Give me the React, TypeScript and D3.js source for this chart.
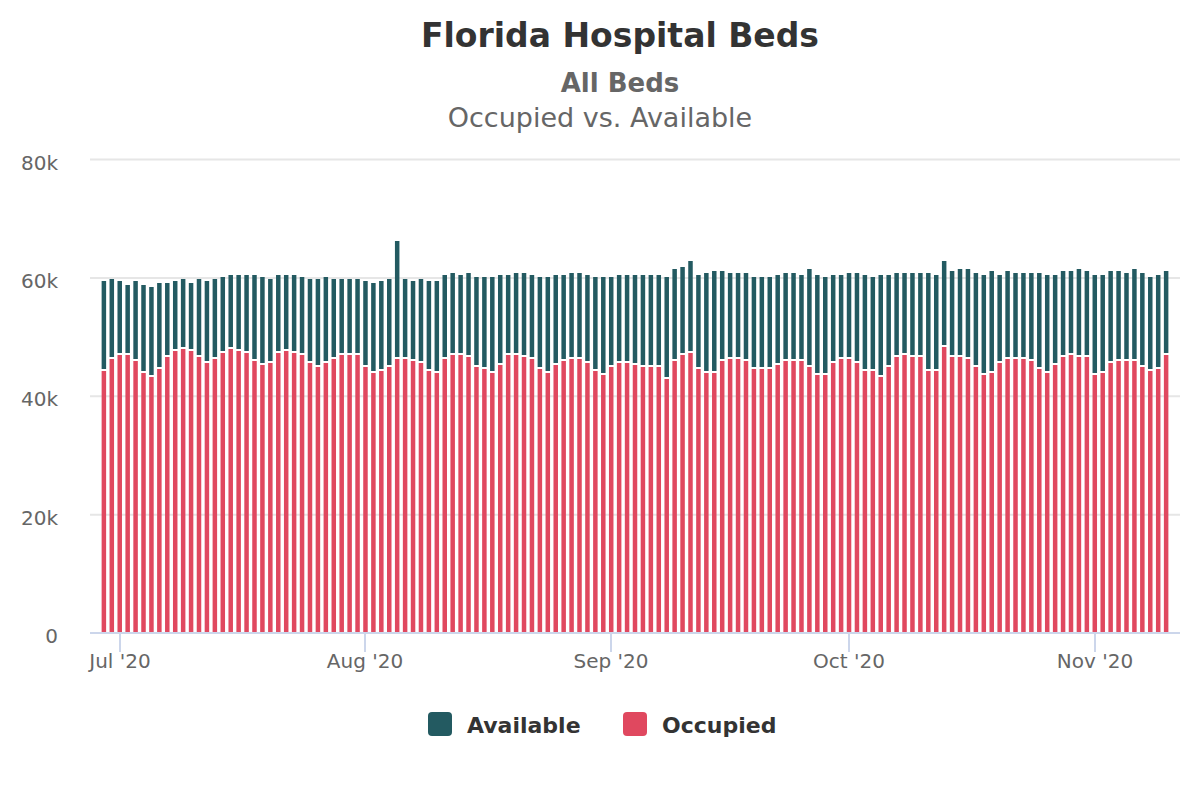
import React from "react";
import * as d3 from "d3";

const startDate = "2020-06-29";
const endDate = "2020-11-10";

const occupied = [
  44300, 46300, 47000, 47000, 46000, 43900, 43300, 44600, 46600, 47700,
  48000, 47700, 46600, 45600, 46300, 47300, 48000, 47700, 47300, 46000,
  45300, 45600, 47300, 47700, 47300, 47000, 45600, 45000, 45600, 46300,
  47000, 47000, 47000, 45000, 43900, 44300, 45000, 46300, 46300, 46000,
  45600, 44300, 43900, 46300, 47000, 47000, 46600, 45000, 44600, 43900,
  45300, 47000, 47000, 46600, 46300, 44600, 43900, 45300, 46000, 46300,
  46300, 45600, 44300, 43600, 45000, 45600, 45600, 45300, 45000, 45000,
  45000, 42900, 46000, 47000, 47300, 44600, 43900, 43900, 46000, 46300,
  46300, 46000, 44600, 44600, 44600, 45300, 46000, 46000, 46000, 45000,
  43600, 43600, 45600, 46300, 46300, 45600, 44300, 44300, 43300, 45000,
  46600, 47000, 46600, 46600, 44300, 44300, 48300, 46600, 46600, 46300,
  45000, 43600, 43900, 45600, 46300, 46300, 46300, 46000, 44600, 43900,
  45300, 46600, 47000, 46600, 46600, 43600, 43900, 45600, 46000, 46000,
  46000, 45000, 44300, 44600, 47000,
];

const available = [
  15100, 13500, 12400, 11800, 13400, 14900, 15100, 14500, 12500, 11700,
  11800, 11400, 13200, 13800, 13500, 12800, 12500, 12800, 13200, 14500,
  14800, 14200, 13200, 12800, 13200, 13100, 14200, 14800, 14500, 13500,
  12800, 12800, 12800, 14400, 15200, 15100, 14800, 19900, 13500, 13400,
  14200, 15100, 15500, 14200, 13800, 13500, 14200, 15100, 15500, 16200,
  15200, 13500, 13800, 14200, 14200, 15500, 16200, 15200, 14500, 14500,
  14500, 14900, 15800, 16500, 15100, 14900, 14900, 15200, 15500, 15500,
  15500, 17200, 15500, 14800, 15500, 15900, 16900, 17200, 15100, 14500,
  14500, 14800, 15500, 15500, 15500, 15200, 14800, 14800, 14500, 16500,
  16900, 16500, 14900, 14200, 14500, 15200, 16200, 15800, 17200, 15500,
  14200, 13800, 14200, 14200, 16500, 16200, 14500, 14500, 14900, 15200,
  15800, 16900, 17200, 14900, 14800, 14500, 14500, 14800, 16200, 16600,
  15200, 14500, 14100, 14900, 14500, 16900, 16600, 15500, 15100, 14800,
  15500, 15800, 15800, 15900, 14100,
];

const yTicks = [0, 20000, 40000, 60000, 80000];
const yTickLabels = ["0", "20k", "40k", "60k", "80k"];
const monthTicks = ["2020-07-01", "2020-08-01", "2020-09-01", "2020-10-01", "2020-11-01"];

const seriesNames = ["Available", "Occupied"];
const seriesColors = ["#235a61", "#e0485f"];

const FONT = "'DejaVu Sans', Verdana, sans-serif";

export default function App() {
  const parse = d3.utcParse("%Y-%m-%d");
  const s = parse(startDate)!;
  const e = parse(endDate)!;
  const days = d3.utcDay.range(s, d3.utcDay.offset(e, 1));

  const left = 90, right = 1180, top = 159.5, bottom = 633;
  const pad = 1.75 * 24 * 3600 * 1000;
  const x = d3.scaleUtc().domain([new Date(+s - pad), new Date(+e + pad)]).range([left, right]);
  const y = d3.scaleLinear().domain([0, 80000]).range([bottom, top]);
  const fmt = d3.utcFormat("%b '%y");
  const barW = 4.5;

  return (
    <svg width={1200} height={800} style={{ position: "absolute", left: 0, top: 0, background: "#fff" }} fontFamily={FONT}>
      <text x={620} y={47} textAnchor="middle" fontSize={33} fontWeight="bold" fill="#333">Florida Hospital Beds</text>
      <text x={620} y={92} textAnchor="middle" fontSize={26} fontWeight="bold" fill="#666">All Beds</text>
      <text x={600} y={127} textAnchor="middle" fontSize={27} fill="#666">Occupied vs. Available</text>

      {yTicks.map((t, i) => (
        <g key={t}>
          {t > 0 && <line x1={left} x2={right} y1={y(t)} y2={y(t)} stroke="#e6e6e6" strokeWidth={2} />}
          <text x={58} y={y(t) + 10} textAnchor="end" fontSize={20} fill="#666">{yTickLabels[i]}</text>
        </g>
      ))}

      {days.map((d, i) => {
        const bx = x(d) - barW / 2;
        const yo = Math.round(y(occupied[i]));
        const yt = Math.round(y(occupied[i] + available[i]));
        return (
          <g key={i}>
            <rect x={bx} y={yt} width={barW} height={Math.max(0, yo - 2 - yt)} fill={seriesColors[0]} />
            <rect x={bx} y={yo} width={barW} height={bottom - yo} fill={seriesColors[1]} />
          </g>
        );
      })}

      <line x1={left} x2={right} y1={bottom} y2={bottom} stroke="#ccd6eb" strokeWidth={2} />
      {monthTicks.map((m) => {
        const d = parse(m)!;
        const tx = Math.round(x(d));
        return (
          <g key={m}>
            <line x1={tx} x2={tx} y1={bottom} y2={652} stroke="#ccd6eb" strokeWidth={2} />
            <text x={tx} y={668} textAnchor="middle" fontSize={20} fill="#666">{fmt(d)}</text>
          </g>
        );
      })}

      {seriesNames.map((n, i) => {
        const lx = i === 0 ? 428 : 623;
        return (
          <g key={n}>
            <rect x={lx} y={712} width={24} height={24} rx={4} fill={seriesColors[i]} />
            <text x={lx + 39} y={733} fontSize={22} fontWeight="bold" fill="#333">{n}</text>
          </g>
        );
      })}
    </svg>
  );
}
